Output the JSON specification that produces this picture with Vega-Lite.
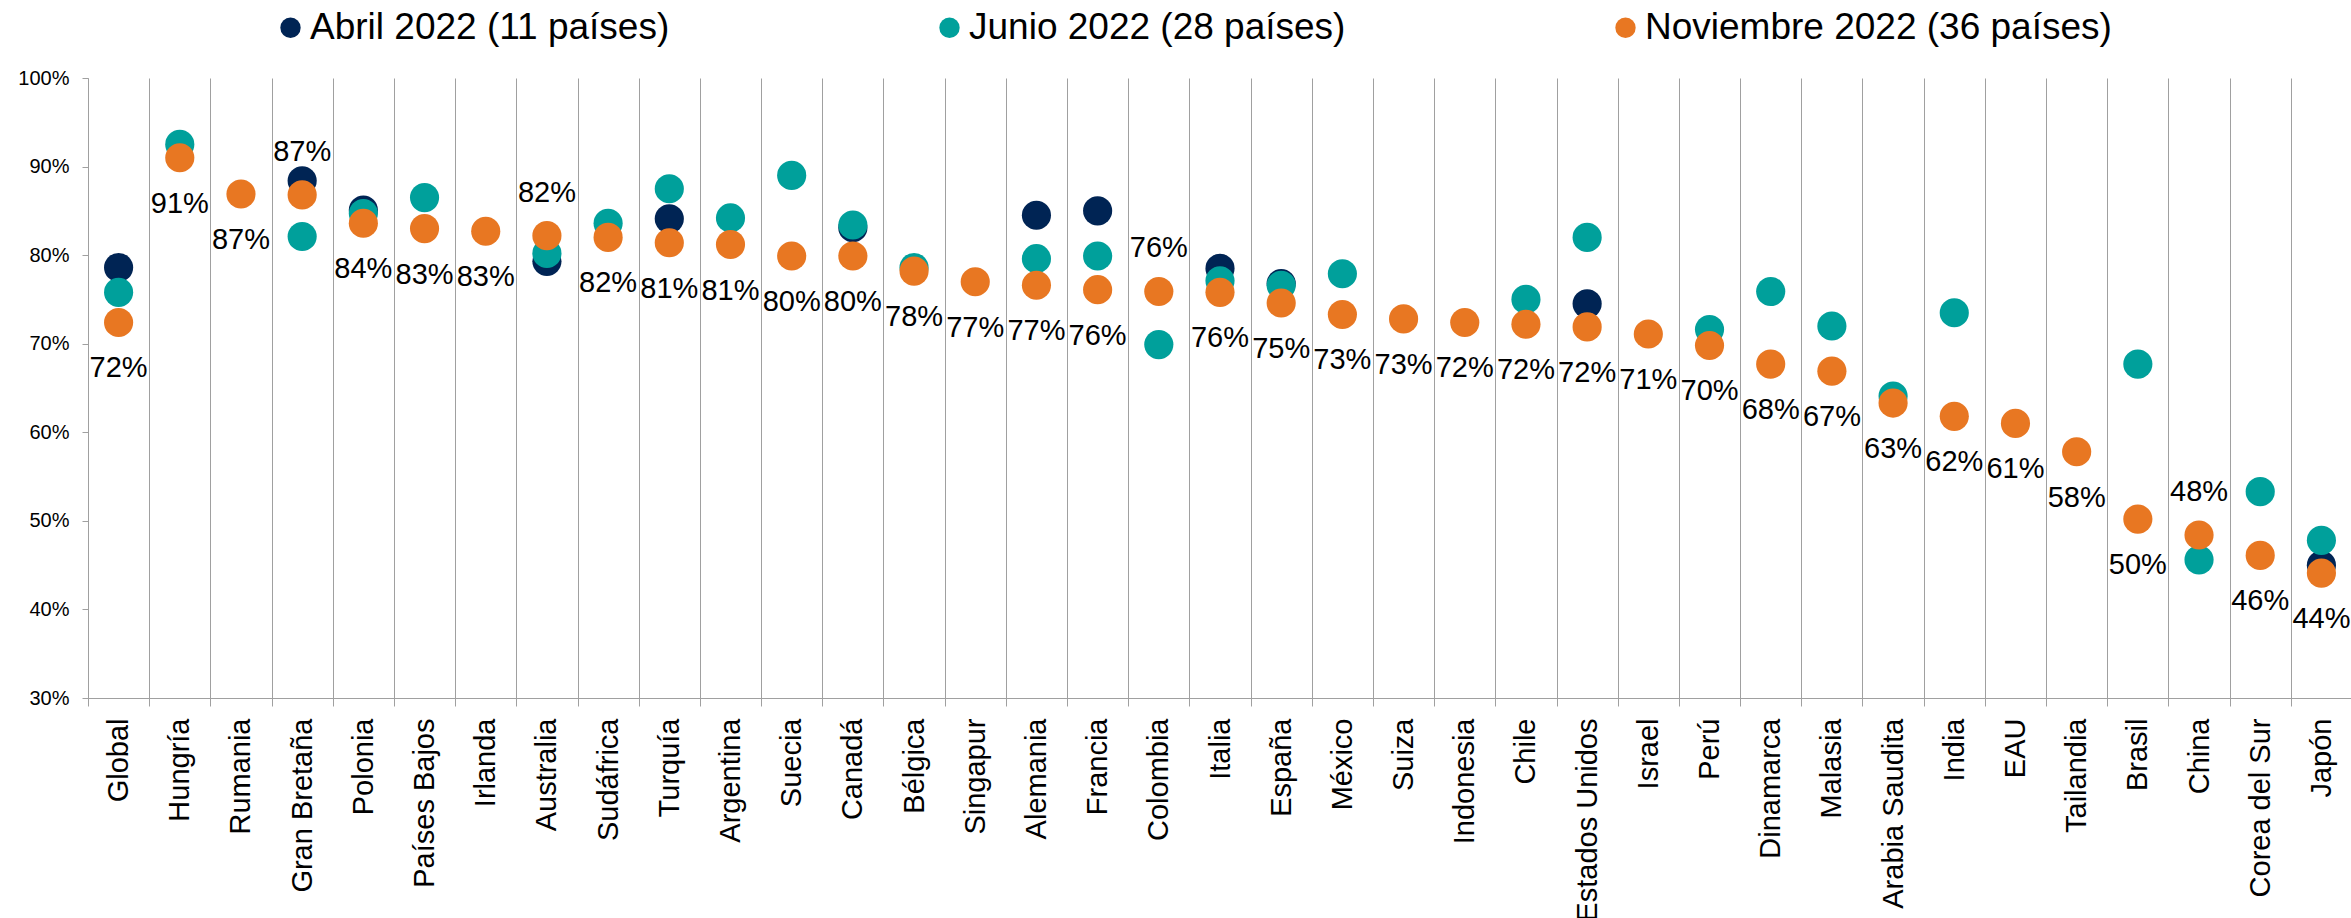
{
  "$schema": "https://vega.github.io/schema/vega-lite/v6.json",
  "width": 2264,
  "height": 620,
  "autosize": {"type": "none"},
  "padding": {"left": 88, "top": 78, "right": 0, "bottom": 220},
  "background": "white",
  "config": {"view": {"stroke": null}, "font": "Liberation Sans"},
  "data": {"values": [
    {"pais": "Global", "serie": "Abril 2022 (11 países)", "valor": 0.786},
    {"pais": "Gran Bretaña", "serie": "Abril 2022 (11 países)", "valor": 0.884},
    {"pais": "Polonia", "serie": "Abril 2022 (11 países)", "valor": 0.851},
    {"pais": "Australia", "serie": "Abril 2022 (11 países)", "valor": 0.793},
    {"pais": "Turquía", "serie": "Abril 2022 (11 países)", "valor": 0.841},
    {"pais": "Canadá", "serie": "Abril 2022 (11 países)", "valor": 0.831},
    {"pais": "Alemania", "serie": "Abril 2022 (11 países)", "valor": 0.845},
    {"pais": "Francia", "serie": "Abril 2022 (11 países)", "valor": 0.850},
    {"pais": "Italia", "serie": "Abril 2022 (11 países)", "valor": 0.785},
    {"pais": "España", "serie": "Abril 2022 (11 países)", "valor": 0.768},
    {"pais": "Estados Unidos", "serie": "Abril 2022 (11 países)", "valor": 0.745},
    {"pais": "Japón", "serie": "Abril 2022 (11 países)", "valor": 0.450},
    {"pais": "Global", "serie": "Junio 2022 (28 países)", "valor": 0.758},
    {"pais": "Hungría", "serie": "Junio 2022 (28 países)", "valor": 0.925},
    {"pais": "Gran Bretaña", "serie": "Junio 2022 (28 países)", "valor": 0.821},
    {"pais": "Polonia", "serie": "Junio 2022 (28 países)", "valor": 0.847},
    {"pais": "Países Bajos", "serie": "Junio 2022 (28 países)", "valor": 0.865},
    {"pais": "Australia", "serie": "Junio 2022 (28 países)", "valor": 0.802},
    {"pais": "Sudáfrica", "serie": "Junio 2022 (28 países)", "valor": 0.836},
    {"pais": "Turquía", "serie": "Junio 2022 (28 países)", "valor": 0.875},
    {"pais": "Argentina", "serie": "Junio 2022 (28 países)", "valor": 0.842},
    {"pais": "Suecia", "serie": "Junio 2022 (28 países)", "valor": 0.890},
    {"pais": "Canadá", "serie": "Junio 2022 (28 países)", "valor": 0.834},
    {"pais": "Bélgica", "serie": "Junio 2022 (28 países)", "valor": 0.786},
    {"pais": "Alemania", "serie": "Junio 2022 (28 países)", "valor": 0.796},
    {"pais": "Francia", "serie": "Junio 2022 (28 países)", "valor": 0.799},
    {"pais": "Colombia", "serie": "Junio 2022 (28 países)", "valor": 0.699},
    {"pais": "Italia", "serie": "Junio 2022 (28 países)", "valor": 0.771},
    {"pais": "España", "serie": "Junio 2022 (28 países)", "valor": 0.766},
    {"pais": "México", "serie": "Junio 2022 (28 países)", "valor": 0.779},
    {"pais": "Chile", "serie": "Junio 2022 (28 países)", "valor": 0.750},
    {"pais": "Estados Unidos", "serie": "Junio 2022 (28 países)", "valor": 0.820},
    {"pais": "Perú", "serie": "Junio 2022 (28 países)", "valor": 0.716},
    {"pais": "Dinamarca", "serie": "Junio 2022 (28 países)", "valor": 0.759},
    {"pais": "Malasia", "serie": "Junio 2022 (28 países)", "valor": 0.720},
    {"pais": "Arabia Saudita", "serie": "Junio 2022 (28 países)", "valor": 0.641},
    {"pais": "India", "serie": "Junio 2022 (28 países)", "valor": 0.735},
    {"pais": "Brasil", "serie": "Junio 2022 (28 países)", "valor": 0.677},
    {"pais": "China", "serie": "Junio 2022 (28 países)", "valor": 0.456},
    {"pais": "Corea del Sur", "serie": "Junio 2022 (28 países)", "valor": 0.533},
    {"pais": "Japón", "serie": "Junio 2022 (28 países)", "valor": 0.478},
    {"pais": "Global", "serie": "Noviembre 2022 (36 países)", "valor": 0.724},
    {"pais": "Hungría", "serie": "Noviembre 2022 (36 países)", "valor": 0.910},
    {"pais": "Rumania", "serie": "Noviembre 2022 (36 países)", "valor": 0.869},
    {"pais": "Gran Bretaña", "serie": "Noviembre 2022 (36 países)", "valor": 0.868},
    {"pais": "Polonia", "serie": "Noviembre 2022 (36 países)", "valor": 0.836},
    {"pais": "Países Bajos", "serie": "Noviembre 2022 (36 países)", "valor": 0.830},
    {"pais": "Irlanda", "serie": "Noviembre 2022 (36 países)", "valor": 0.827},
    {"pais": "Australia", "serie": "Noviembre 2022 (36 países)", "valor": 0.822},
    {"pais": "Sudáfrica", "serie": "Noviembre 2022 (36 países)", "valor": 0.820},
    {"pais": "Turquía", "serie": "Noviembre 2022 (36 países)", "valor": 0.814},
    {"pais": "Argentina", "serie": "Noviembre 2022 (36 países)", "valor": 0.812},
    {"pais": "Suecia", "serie": "Noviembre 2022 (36 países)", "valor": 0.799},
    {"pais": "Canadá", "serie": "Noviembre 2022 (36 países)", "valor": 0.799},
    {"pais": "Bélgica", "serie": "Noviembre 2022 (36 países)", "valor": 0.782},
    {"pais": "Singapur", "serie": "Noviembre 2022 (36 países)", "valor": 0.770},
    {"pais": "Alemania", "serie": "Noviembre 2022 (36 países)", "valor": 0.766},
    {"pais": "Francia", "serie": "Noviembre 2022 (36 países)", "valor": 0.761},
    {"pais": "Colombia", "serie": "Noviembre 2022 (36 países)", "valor": 0.759},
    {"pais": "Italia", "serie": "Noviembre 2022 (36 países)", "valor": 0.758},
    {"pais": "España", "serie": "Noviembre 2022 (36 países)", "valor": 0.746},
    {"pais": "México", "serie": "Noviembre 2022 (36 países)", "valor": 0.733},
    {"pais": "Suiza", "serie": "Noviembre 2022 (36 países)", "valor": 0.728},
    {"pais": "Indonesia", "serie": "Noviembre 2022 (36 países)", "valor": 0.724},
    {"pais": "Chile", "serie": "Noviembre 2022 (36 países)", "valor": 0.722},
    {"pais": "Estados Unidos", "serie": "Noviembre 2022 (36 países)", "valor": 0.719},
    {"pais": "Israel", "serie": "Noviembre 2022 (36 países)", "valor": 0.711},
    {"pais": "Perú", "serie": "Noviembre 2022 (36 países)", "valor": 0.698},
    {"pais": "Dinamarca", "serie": "Noviembre 2022 (36 países)", "valor": 0.677},
    {"pais": "Malasia", "serie": "Noviembre 2022 (36 países)", "valor": 0.669},
    {"pais": "Arabia Saudita", "serie": "Noviembre 2022 (36 países)", "valor": 0.633},
    {"pais": "India", "serie": "Noviembre 2022 (36 países)", "valor": 0.618},
    {"pais": "EAU", "serie": "Noviembre 2022 (36 países)", "valor": 0.610},
    {"pais": "Tailandia", "serie": "Noviembre 2022 (36 países)", "valor": 0.578},
    {"pais": "Brasil", "serie": "Noviembre 2022 (36 países)", "valor": 0.502},
    {"pais": "China", "serie": "Noviembre 2022 (36 países)", "valor": 0.484},
    {"pais": "Corea del Sur", "serie": "Noviembre 2022 (36 países)", "valor": 0.461},
    {"pais": "Japón", "serie": "Noviembre 2022 (36 países)", "valor": 0.441}
  ]},
  "encoding": {
    "x": {
      "field": "pais", "type": "nominal",
      "sort": ["Global","Hungría","Rumania","Gran Bretaña","Polonia","Países Bajos","Irlanda","Australia","Sudáfrica","Turquía","Argentina","Suecia","Canadá","Bélgica","Singapur","Alemania","Francia","Colombia","Italia","España","México","Suiza","Indonesia","Chile","Estados Unidos","Israel","Perú","Dinamarca","Malasia","Arabia Saudita","India","EAU","Tailandia","Brasil","China","Corea del Sur","Japón"],
      "scale": {"type": "band", "paddingInner": 0, "paddingOuter": 0},
      "axis": {
        "title": null, "labelAngle": -90, "labelFontSize": 29, "labelColor": "black",
        "labelLimit": 400, "labelOverlap": false, "labelPadding": 12,
        "tickSize": 8, "tickColor": "#A0A0A0", "domainColor": "#A0A0A0",
        "grid": true, "gridColor": "#A0A0A0", "gridOpacity": 1, "tickBand": "extent"
      }
    },
    "y": {
      "field": "valor", "type": "quantitative",
      "scale": {"domain": [0.3, 1], "nice": false, "zero": false},
      "axis": {
        "title": null, "values": [0.3, 0.4, 0.5, 0.6, 0.7, 0.8, 0.9, 1.0], "format": ".0%",
        "labelFontSize": 20, "labelColor": "black", "tickSize": 6, "tickColor": "#A0A0A0",
        "domainColor": "#A0A0A0", "grid": false, "labelPadding": 13
      }
    }
  },
  "layer": [
    {
      "mark": {"type": "point", "filled": true, "opacity": 1, "size": 850, "strokeWidth": 0},
      "encoding": {
        "color": {
          "field": "serie", "type": "nominal",
          "scale": {
            "domain": ["Abril 2022 (11 países)", "Junio 2022 (28 países)", "Noviembre 2022 (36 países)"],
            "range": ["#002454", "#00A09B", "#E87722"]
          },
          "legend": {
            "title": null, "orient": "none", "legendX": 184, "legendY": -69,
            "direction": "horizontal", "symbolType": "circle", "symbolSize": 415,
            "symbolOpacity": 1, "symbolStrokeWidth": 0,
            "labelFontSize": 37, "labelColor": "black", "labelOffset": 1,
            "columnPadding": 261, "padding": 0, "labelLimit": 0
          }
        }
      }
    },
    {
      "transform": [{"filter": "datum.serie == 'Noviembre 2022 (36 países)' && indexof(['Gran Bretaña','Australia','Colombia','China'], datum.pais) < 0"}],
      "mark": {"type": "text", "dy": 46, "fontSize": 29, "color": "black", "baseline": "middle"},
      "encoding": {"text": {"field": "valor", "type": "quantitative", "format": ".0%"}}
    },
    {
      "transform": [{"filter": "datum.serie == 'Noviembre 2022 (36 países)' && indexof(['Gran Bretaña','Australia','Colombia','China'], datum.pais) >= 0"}],
      "mark": {"type": "text", "dy": -43, "fontSize": 29, "color": "black", "baseline": "middle"},
      "encoding": {"text": {"field": "valor", "type": "quantitative", "format": ".0%"}}
    }
  ]
}
